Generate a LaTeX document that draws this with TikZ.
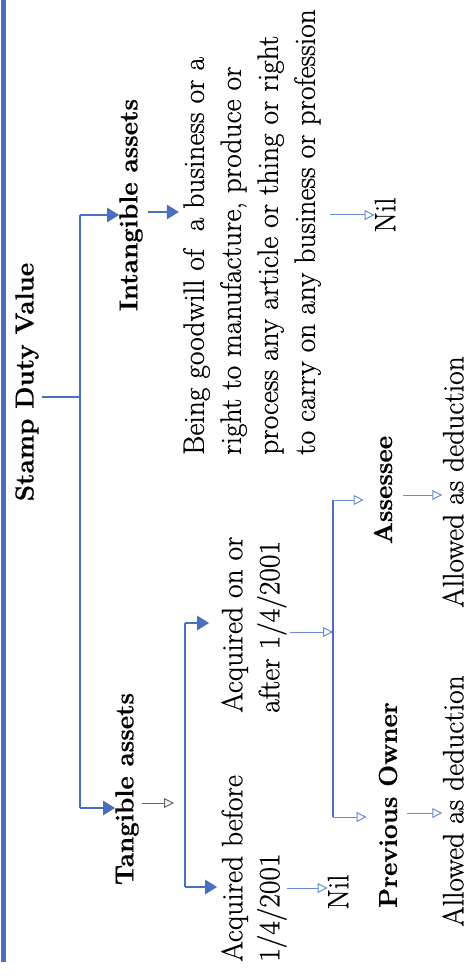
\documentclass[tikz,border=0pt]{standalone}
\usepackage{fontspec}
\setmainfont{Latin Modern Roman}[FakeBold=0.6]
\usetikzlibrary{arrows.meta,calc}
\definecolor{lb}{RGB}{75,110,190}
\definecolor{lb2}{RGB}{105,140,210}
\begin{document}
\begin{tikzpicture}[x=1pt,y=-1pt,
  hd/.style={font=\fontsize{26}{30}\selectfont\bfseries, rotate=90, inner sep=0pt},
  tx/.style={font=\fontsize{29.5}{37}\selectfont, rotate=90, inner sep=0pt, align=left},
  trunk/.style={draw=lb, line width=2.5pt},
  bigarrow/.style={draw=lb, line width=2.5pt, -{Triangle[width=14pt,length=12pt,fill=lb]}},
  smallarrow/.style={draw=lb2, line width=1pt, -{Triangle[open,width=10pt,length=10pt]}},
]
\useasboundingbox (0,0) rectangle (469,976);
\draw[draw=lb, line width=5pt] (3,0) -- (3,962);

\node[hd] (sdv) at (27,382) {Stamp Duty Value};
\node[hd] (intang) at (131,205) {Intangible assets};
\node[hd] (tang) at (127,789) {Tangible assets};
\node[tx, anchor=west] (desc) at (252,455) {Being goodwill of\ \ a business or a\\right to manufacture, produce or\\process any article or thing or right\\to carry on any business or profession};
\node[tx] (nil1) at (385,215) {Nil};
\node[tx, anchor=west] (before) at (254,962) {Acquired before\\1/4/2001};
\node[tx, anchor=west] (after) at (254,713) {Acquired on or\\after 1/4/2001};
\node[tx] (nil2) at (338,892) {Nil};
\node[hd] (assessee) at (383,490) {Assessee};
\node[hd] (prev) at (388,805) {Previous Owner};
\node[tx] (allow1) at (453,482) {Allowed as deduction};
\node[tx] (allow2) at (453,801) {Allowed as deduction};

% main tree
\coordinate (s0) at (42,397);
\coordinate (s1) at (80,397);
\coordinate (t1) at (80,215);
\coordinate (t2) at (80,808);
\draw[trunk] (s0) -- (s1);
\draw[trunk] (t1) -- (t2);
\draw[bigarrow] (t1) -- (intang.north |- t1);
\draw[bigarrow] (t2) -- (tang.north |- t2);

% intangible branch
\coordinate (i0) at (148,212);
\draw[bigarrow] (i0) -- ($(desc.north |- i0)+(-4,0)$);
\coordinate (i1) at (330,215);
\draw[smallarrow] (i1) -- (nil1.north |- i1);

% tangible branch
\coordinate (g0) at (142,803);
\coordinate (g1) at (174,803);
\draw[smallarrow, draw=gray!80!black] (g0) -- (g1);
\coordinate (a1) at (185,623);
\coordinate (a2) at (185,887);
\draw[trunk] (a1) -- (a2);
\draw[bigarrow] (a1) -- ($(after.north |- a1)+(-12,0)$);
\draw[bigarrow] (a2) -- ($(before.north |- a2)+(-4,0)$);
\coordinate (b0) at (287,888);
\draw[smallarrow] (b0) -- (nil2.north |- b0);

% after branch
\coordinate (c0) at (290,632);
\coordinate (c1) at (333,632);
\draw[smallarrow] (c0) -- (c1);
\coordinate (p1) at (333,500);
\coordinate (p2) at (333,817);
\draw[trunk] (p1) -- (p2);
\draw[smallarrow] (p1) -- ($(assessee.north |- p1)+(-10,0)$);
\draw[smallarrow] (p2) -- ($(prev.north |- p2)+(-12,0)$);
\coordinate (e1) at (403,495);
\draw[smallarrow] (e1) -- (allow1.north |- e1);
\coordinate (e2) at (407,813);
\draw[smallarrow] (e2) -- (allow2.north |- e2);
\end{tikzpicture}
\end{document}
